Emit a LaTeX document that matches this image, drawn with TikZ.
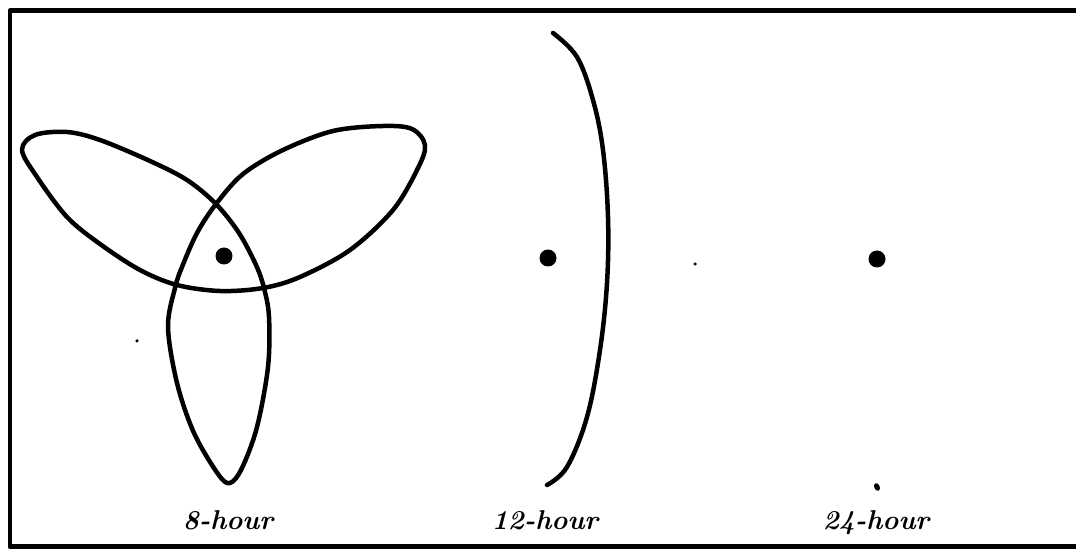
\documentclass[tikz,border=0pt]{standalone}
\usetikzlibrary{shapes.geometric}
\begin{document}
\begin{tikzpicture}[x=0.02cm,y=-0.02cm,
  stroke/.style={line width=0.09cm,line cap=round,line join=round},
  dot/.style={circle,fill=black,inner sep=0pt,minimum size=0.34cm},
  speck/.style={circle,fill=black,inner sep=0pt,minimum size=0.07cm},
  lbl/.style={font=\fontsize{15.5}{17}\selectfont\bfseries\itshape,anchor=base}]
\useasboundingbox (0,0) rectangle (1076,550);
% frame (open on the right)
\draw[stroke,line width=0.1cm,line cap=butt] (1076,11) -- (10,11) -- (10,547) -- (1076,547);
% trefoil (8-hour)
\draw[stroke] plot[smooth cycle,tension=0.55] coordinates {
 (216,204) (187,180) (150,161) (100,140) (67,132) (35,135) (22,150)
 (37,177) (67,217) (100,244) (140,270) (177,285) (220,291) (263,288)
 (300,277) (350,250) (393,210) (418,168) (425,145) (412,129) (383,126)
 (333,131) (283,150) (243,174) (216,204)
 (197,233) (182,267) (175,288) (168,327) (177,383) (194,433) (218,474)
 (230,483) (242,468) (257,427) (268,367) (269,317) (264,288)
 (256,265) (239,233) };
% 12-hour arc
\draw[stroke] plot[smooth,tension=0.6] coordinates {
 (553,33) (577,57) (593,100) (603,150) (608,217) (607,283) (600,350)
 (587,417) (567,467) (547,485) };
% dots
\node[dot] (d8) at (224,256) {};
\node[dot] (d12) at (548,258) {};
\node[dot] (d24) at (877,259) {};
\node[ellipse,fill=black,inner sep=0pt,minimum width=0.11cm,minimum height=0.16cm,rotate=25] (d24b) at (877,487) {};
\node[speck] (s1) at (137,341) {};
\node[speck] (s2) at (695,264) {};
% labels
\node[lbl] (l8) at (228,530) {8-hour};
\node[lbl] (l12) at (545,530) {12-hour};
\node[lbl] (l24) at (876,530) {24-hour};
\end{tikzpicture}
\end{document}
